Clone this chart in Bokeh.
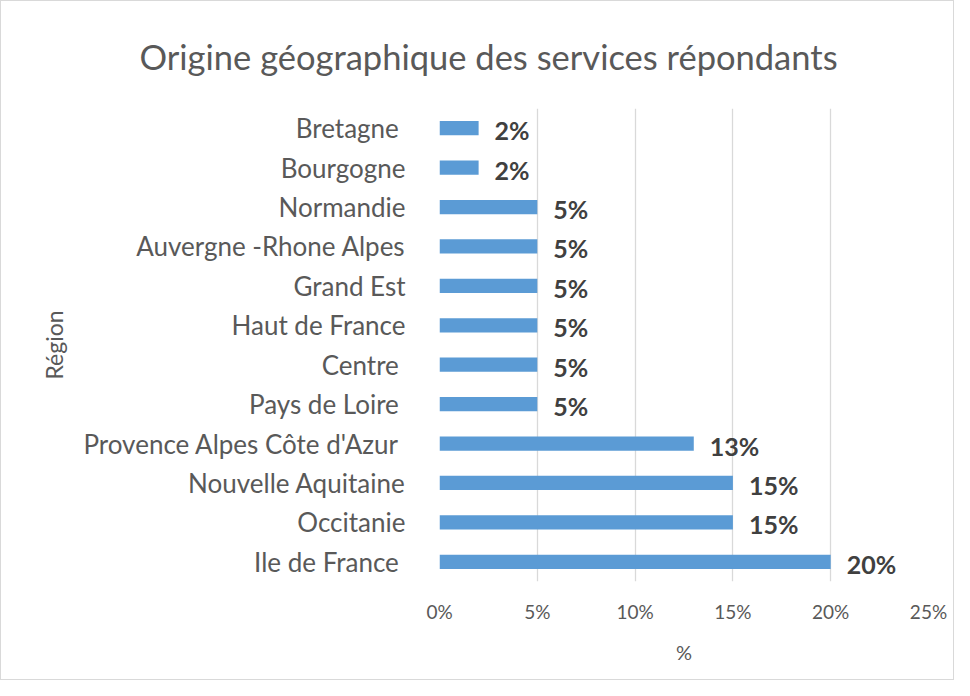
from bokeh.plotting import figure
from bokeh.models import Range1d, FactorRange, FixedTicker, PrintfTickFormatter, ColumnDataSource, Title
from bokeh.core.properties import value
from bokeh.embed import file_html
from bokeh.resources import INLINE

regions = ["Bretagne ", "Bourgogne", "Normandie", "Auvergne -Rhone Alpes", "Grand Est",
           "Haut de France", "Centre ", "Pays de Loire ", "Provence Alpes Côte d'Azur ",
           "Nouvelle Aquitaine", "Occitanie", "Ile de France "]
percent = [2, 2, 5, 5, 5, 5, 5, 5, 13, 15, 15, 20]
x_ticks = [0, 5, 10, 15, 20, 25]
title_text = "Origine géographique des services répondants"
x_title = "%"
y_title = "Région"

FONT = "Lato"
order = list(reversed(regions))

src = ColumnDataSource(dict(region=regions, pct=percent,
                            lbl=[f"{v}%" for v in percent]))

p = figure(width=954, height=680, output_backend="svg", toolbar_location=None,
           x_range=Range1d(0, 25), y_range=FactorRange(factors=order, range_padding=0),
           min_border_left=438, min_border_right=27, min_border_top=107, min_border_bottom=100)
p.styles = {"border": "1px solid #d9d9d9"}
p.outline_line_color = None
p.background_fill_color = "white"

p.title = Title(text=title_text, align="left", offset=-300, standoff=64,
                text_font=FONT, text_font_size="34.5px", text_font_style="normal",
                text_color="#595959")

p.hbar(y="region", right="pct", left=0, height=0.36, source=src,
       fill_color="#5b9bd5", line_color=None)
p.text(x="pct", y="region", text="lbl", source=src, x_offset=16, y_offset=2,
       text_font=value(FONT), text_font_style="bold", text_font_size="25px",
       text_color="#404040", text_baseline="middle", text_align="left")

p.xgrid.grid_line_color = "#d9d9d9"
p.xgrid.grid_line_width = 1.3
p.ygrid.grid_line_color = None

xa = p.xaxis[0]
xa.ticker = FixedTicker(ticks=x_ticks)
xa.formatter = PrintfTickFormatter(format="%d%%")
xa.axis_line_color = None
xa.major_tick_line_color = None
xa.minor_tick_line_color = None
xa.major_label_text_font = FONT
xa.major_label_text_font_size = "19px"
xa.major_label_text_color = "#595959"
xa.major_label_standoff = 12
xa.axis_label = x_title
xa.axis_label_text_font = FONT
xa.axis_label_text_font_size = "20px"
xa.axis_label_text_font_style = "normal"
xa.axis_label_text_color = "#595959"
xa.axis_label_standoff = 14

ya = p.yaxis[0]
ya.axis_line_color = None
ya.major_tick_line_color = None
ya.minor_tick_line_color = None
ya.major_label_text_font = FONT
ya.major_label_text_font_size = "26px"
ya.major_label_text_color = "#595959"
ya.major_label_standoff = 28
ya.axis_label = y_title
ya.axis_label_text_font = FONT
ya.axis_label_text_font_size = "23px"
ya.axis_label_text_font_style = "normal"
ya.axis_label_text_color = "#595959"
ya.axis_label_standoff = 12

open("out.html", "w").write(file_html(p, INLINE))
